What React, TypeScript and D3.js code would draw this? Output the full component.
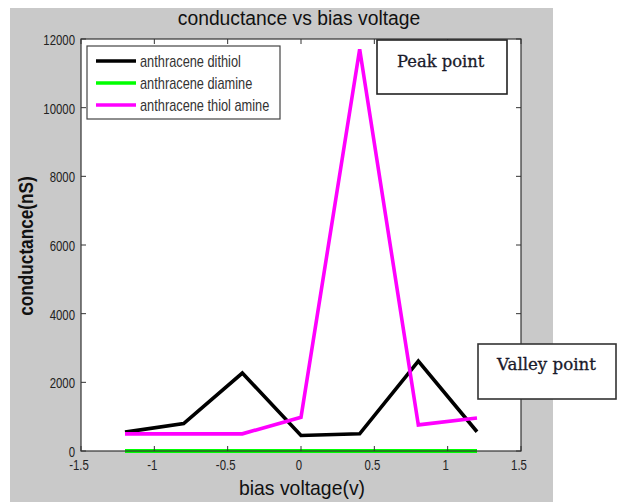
import React from "react";
import * as d3 from "d3";

const biasVoltage = [-1.2, -0.8, -0.4, 0, 0.4, 0.8, 1.2];
const dithiol = [550, 800, 2270, 450, 500, 2620, 560];
const diamine = [0, 0, 0, 0, 0, 0, 0];
const thiolAmine = [500, 500, 500, 980, 11700, 760, 960];
const seriesNames = ["anthracene dithiol", "anthracene diamine", "anthracene thiol amine"];
const seriesColors = ["#000000", "#00ff00", "#ff00ff"];
const xTicks = [-1.5, -1, -0.5, 0, 0.5, 1, 1.5];
const yTicks = [0, 2000, 4000, 6000, 8000, 10000, 12000];

const W = 622, H = 502;
const PL = 81, PR = 521, PT = 39, PB = 451;

function T({ x, y, children, size, anchor = "start", weight = "normal", family = "'Liberation Sans', Arial, sans-serif", rotate = 0, sx = 0.8, fill = "#000", stroke = "none", sw = 0 }: any) {
  return (
    <text
      transform={`translate(${x},${y}) rotate(${rotate}) scale(${sx},1)`}
      fontSize={size}
      textAnchor={anchor}
      fontWeight={weight}
      fontFamily={family}
      fill={fill}
      stroke={stroke}
      strokeWidth={sw}
    >
      {children}
    </text>
  );
}

export default function App() {
  const x = d3.scaleLinear().domain([-1.5, 1.5]).range([PL, PR]);
  const y = d3.scaleLinear().domain([0, 12000]).range([PB, PT]);
  const line = d3
    .line<number>()
    .x((_, i) => x(biasVoltage[i]))
    .y((d) => y(d));
  const data = [dithiol, diamine, thiolAmine];
  const widths = [3.6, 4, 3.6];
  const tl = 5;
  const serif = "'DejaVu Serif', 'Liberation Serif', serif";
  return (
    <svg width={W} height={H} style={{ position: "absolute", left: 0, top: 0, background: "#fff" }}>
      <rect x={10} y={8} width={543} height={494} fill="#c9c9c9" />
      <rect x={PL} y={PT} width={PR - PL} height={PB - PT} fill="#fff" />
      {data.map((d, i) => (
        <path key={i} d={line(d) || ""} fill="none" stroke={seriesColors[i]} strokeWidth={widths[i]} strokeLinejoin="miter" />
      ))}
      <rect x={PL} y={PT} width={PR - PL} height={PB - PT} fill="none" stroke="#333" strokeWidth={1.2} />
      {xTicks.map((t) => (
        <g key={"x" + t}>
          <line x1={x(t)} x2={x(t)} y1={PB} y2={PB - tl} stroke="#333" />
          <line x1={x(t)} x2={x(t)} y1={PT} y2={PT + tl} stroke="#333" />
          <T x={x(t) - 2} y={470} size={15} sx={0.76} anchor="middle" fill="#222">{String(t)}</T>
        </g>
      ))}
      {yTicks.map((t) => (
        <g key={"y" + t}>
          <line x1={PL} x2={PL + tl} y1={y(t)} y2={y(t)} stroke="#333" />
          <line x1={PR} x2={PR - tl} y1={y(t)} y2={y(t)} stroke="#333" />
          <T x={75} y={y(t) + 6} size={15} sx={0.76} anchor="end" fill="#222">{String(t)}</T>
        </g>
      ))}
      <T x={299} y={25} size={21} sx={0.92} anchor="middle" fill="#111">conductance vs bias voltage</T>
      <T x={302} y={495} size={20} sx={0.97} anchor="middle" fill="#111">bias voltage(v)</T>
      <T x={33} y={246} size={21} sx={0.82} anchor="middle" weight="bold" rotate={-90} fill="#111">conductance(nS)</T>
      <rect x={87} y={46} width={193} height={73} fill="#fff" stroke="#444" strokeWidth={1.2} />
      {seriesNames.map((n, i) => (
        <g key={n}>
          <line x1={96} x2={136} y1={61 + i * 22} y2={61 + i * 22} stroke={seriesColors[i]} strokeWidth={3.6} />
          <T x={140} y={66.5 + i * 22} size={16} sx={0.8} fill="#333">{n}</T>
        </g>
      ))}
      <rect x={377} y={40} width={130} height={54} fill="#fff" stroke="#222" strokeWidth={1.6} />
      <T x={397} y={67} size={16} sx={1.02} family={serif} fill="#1a1a2a" stroke="#1a1a2a" sw={0.3}>Peak point</T>
      <rect x={478} y={344} width={138} height={55} fill="#fff" stroke="#333" strokeWidth={1.6} />
      <T x={497} y={369.5} size={16} sx={1.04} family={serif} fill="#1a1a2a" stroke="#1a1a2a" sw={0.3}>Valley point</T>
    </svg>
  );
}
